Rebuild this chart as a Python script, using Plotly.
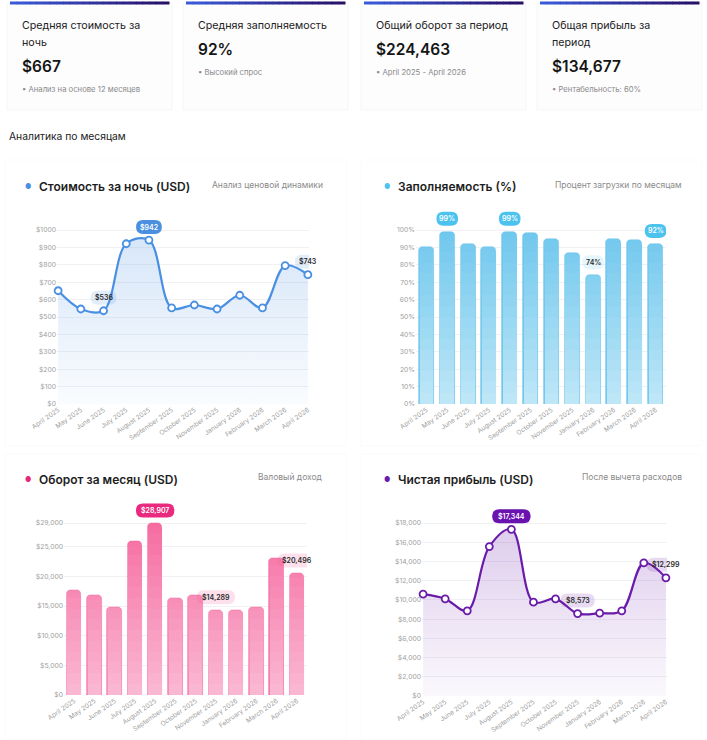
import numpy as np
import plotly.graph_objects as go

W, H = 707, 740

# ---------------- data ----------------
months = ["April 2025", "May 2025", "June 2025", "July 2025", "August 2025",
          "September 2025", "October 2025", "November 2025", "January 2026",
          "February 2026", "March 2026", "April 2026"]
nightly_price = [651, 546, 536, 921, 942, 552, 569, 546, 625, 552, 795, 743]
occupancy = [90, 99, 92, 90, 99, 98, 95, 87, 74, 95, 94, 92]
revenue = [17635, 16795, 14780, 25865, 28907, 16292, 16795, 14289, 14332, 14780, 23010, 20496]
profit = [10592, 10108, 8862, 15542, 17344, 9762, 10108, 8573, 8619, 8862, 13846, 12299]

price_ticks = [0, 100, 200, 300, 400, 500, 600, 700, 800, 900, 1000]
occupancy_ticks = [0, 10, 20, 30, 40, 50, 60, 70, 80, 90, 100]
revenue_ticks = [0, 5000, 10000, 15000, 20000, 25000, 29000]
profit_ticks = [0, 2000, 4000, 6000, 8000, 10000, 12000, 14000, 16000, 18000]

kpi_titles = [["Средняя стоимость за", "ночь"], ["Средняя заполняемость"],
              ["Общий оборот за период"], ["Общая прибыль за", "период"]]
kpi_values = ["$667", "92%", "$224,463", "$134,677"]
kpi_notes = ["• Анализ на основе 12 месяцев", "• Высокий спрос",
             "• April 2025 - April 2026", "• Рентабельность: 60%"]

FONT = "Inter, Roboto, sans-serif"


def px(x):
    return x / W


def py(y):
    return 1 - y / H


fig = go.Figure()
shapes = []
annots = []


def text(x, y, s, size, color="#222", xanchor="left", weight=400, yanchor="middle"):
    annots.append(dict(x=px(x), y=py(y), xref="paper", yref="paper", text=s,
                       showarrow=False, xanchor=xanchor, yanchor=yanchor,
                       font=dict(size=size, color=color, family=FONT, weight=weight)))


# ---------------- KPI cards ----------------
card_x = [(7, 172), (183, 348), (361, 526), (537, 702)]
c0, c1 = np.array([58, 90, 218]), np.array([40, 16, 104])
for i, (x0, x1) in enumerate(card_x):
    shapes.append(dict(type="rect", xref="paper", yref="paper", x0=px(x0), x1=px(x1), y0=py(110), y1=py(3),
                       fillcolor="#fdfdfe", line=dict(color="rgba(0,0,0,0.03)", width=1), layer="below"))
    n = 24
    for k in range(n):
        t = k / (n - 1)
        c = (c0 * (1 - t) + c1 * t).astype(int)
        shapes.append(dict(type="rect", xref="paper", yref="paper",
                           x0=px(x0 + 3 + (x1 - x0 - 6) * k / n), x1=px(x0 + 3 + (x1 - x0 - 6) * (k + 1) / n + 0.5),
                           y0=py(4.5), y1=py(1.5), fillcolor=f"rgb({c[0]},{c[1]},{c[2]})", line=dict(width=0)))
    tx = x0 + 13
    lines = kpi_titles[i]
    for j, ln in enumerate(lines):
        text(tx, 26 + 17 * j, ln, 10.7, "#222")
    if len(lines) == 2:
        vy, ny = 67, 89
    else:
        vy, ny = 50, 72
    text(tx, vy, kpi_values[i], 15.5, "#151515", weight=600)
    text(tx, ny, kpi_notes[i], 7.7, "#8a8a8a")

text(7, 136, "Аналитика по месяцам", 10.3, "#222")

# ---------------- chart panels ----------------
panels = [
    dict(box=(5, 160, 346, 446), title="Стоимость за ночь (USD)", sub="Анализ ценовой динамики",
         dot="#4a90e2", ty=187, tx=37, dx=28, sx=325),
    dict(box=(361, 160, 702, 446), title="Заполняемость (%)", sub="Процент загрузки по месяцам",
         dot="#4fc3f0", ty=187, tx=396, dx=387, sx=684),
    dict(box=(5, 454, 346, 740), title="Оборот за месяц (USD)", sub="Валовый доход",
         dot="#e8267a", ty=479, tx=37, dx=28, sx=325),
    dict(box=(361, 454, 702, 740), title="Чистая прибыль (USD)", sub="После вычета расходов",
         dot="#6a1bb0", ty=479, tx=396, dx=387, sx=684),
]
for p in panels:
    x0, y0, x1, y1 = p["box"]
    shapes.append(dict(type="rect", xref="paper", yref="paper", x0=px(x0), x1=px(x1), y0=py(y1), y1=py(y0),
                       fillcolor="#ffffff", line=dict(color="rgba(0,0,0,0.02)", width=1), layer="below"))
    text(p["dx"], p["ty"], "●", 7, p["dot"], xanchor="center")
    text(p["tx"], p["ty"], p["title"], 12, "#1e1e1e", weight=600)
    text(p["sx"], p["ty"] - 2, p["sub"], 8.5, "#8a8a8a", xanchor="right")

# axes: pixel position of zero and of the top tick, plus headroom for value badges
axes = {
    1: dict(xd=(57, 309), y0=404, ytop=230, top=1000, xr=[-0.05, 11.05]),
    2: dict(xd=(416, 666), y0=404, ytop=230, top=100, xr=[-0.5, 11.5]),
    3: dict(xd=(64, 307), y0=695, ytop=523, top=29000, xr=[-0.5, 11.5]),
    4: dict(xd=(422, 667), y0=696, ytop=523, top=18000, xr=[-0.05, 11.05]),
}
HEAD = 1.12
idx = list(range(len(months)))

layout_axes = {}
for k, a in axes.items():
    sx = "" if k == 1 else str(k)
    ytop_px = a["y0"] - (a["y0"] - a["ytop"]) * HEAD
    layout_axes[f"xaxis{sx}"] = dict(domain=[px(a["xd"][0]), px(a["xd"][1])], range=a["xr"],
                                     anchor=f"y{sx}", tickmode="array", tickvals=idx, ticktext=months,
                                     tickangle=-35, tickfont=dict(size=6.5, color="#a0a0a0", family=FONT),
                                     showgrid=False, zeroline=False, showline=False, ticks="",
                                     automargin=False, fixedrange=True)
    layout_axes[f"yaxis{sx}"] = dict(domain=[py(a["y0"]), py(ytop_px)], range=[0, a["top"] * HEAD],
                                     anchor=f"x{sx}", tickfont=dict(size=6.8, color="#a0a0a0", family=FONT),
                                     showgrid=True, gridcolor="#f1f1f4", gridwidth=1, zeroline=False,
                                     showline=False, ticks="", automargin=False, fixedrange=True)

layout_axes["yaxis"].update(tickmode="array", tickvals=price_ticks,
                            ticktext=[f"${v}" for v in price_ticks])
layout_axes["yaxis2"].update(tickmode="array", tickvals=occupancy_ticks,
                             ticktext=[f"{v}%" for v in occupancy_ticks])
layout_axes["yaxis3"].update(tickmode="array", tickvals=revenue_ticks,
                             ticktext=[f"${v:,}" for v in revenue_ticks])
layout_axes["yaxis4"].update(tickmode="array", tickvals=profit_ticks,
                             ticktext=[f"${v:,}" for v in profit_ticks])


# ---------------- line charts ----------------
def line_chart(values, xa, ya, rgb):
    r, g, b = rgb
    fig.add_trace(go.Scatter(
        x=idx, y=values, xaxis=xa, yaxis=ya, mode="lines+markers",
        line=dict(color=f"rgb({r},{g},{b})", width=2.2, shape="spline", smoothing=1.0),
        marker=dict(size=7, color="white", line=dict(color=f"rgb({r},{g},{b})", width=1.8)),
        fill="tozeroy",
        fillgradient=dict(type="vertical",
                          colorscale=[[0, f"rgba({r},{g},{b},0.03)"], [1, f"rgba({r},{g},{b},0.22)"]]),
        hoverinfo="skip", showlegend=False, cliponaxis=False))


line_chart(nightly_price, "x", "y", (74, 144, 226))
line_chart(profit, "x4", "y4", (106, 27, 170))


# ---------------- gradient bar charts ----------------
def gradient_bars(values, xa, ya, ymax, top_rgb, bot_rgb, edge, plot_h):
    top_rgb, bot_rgb = np.array(top_rgb), np.array(bot_rgb)

    def col(h):
        t = min(max(h / ymax, 0), 1)
        c = (bot_rgb * (1 - t) + top_rgb * t).astype(int)
        return f"rgb({c[0]},{c[1]},{c[2]})"

    fig.add_trace(go.Bar(x=idx, y=values, xaxis=xa, yaxis=ya, width=0.72,
                         marker=dict(color=[col(v) for v in values], cornerradius=4,
                                     line=dict(color=edge, width=0.8)),
                         hoverinfo="skip", showlegend=False))
    rdat = 4.5 / plot_h * ymax
    n = 16
    levels = np.linspace(0, ymax, n + 1)
    for k in range(n):
        lo, hi = levels[k], levels[k + 1]
        hs, bs = [], []
        for v in values:
            top = min(v - rdat, hi + ymax * 0.004)
            if top > lo:
                hs.append(top - lo)
                bs.append(lo)
            else:
                hs.append(None)
                bs.append(None)
        fig.add_trace(go.Bar(x=idx, y=hs, base=bs, xaxis=xa, yaxis=ya, width=0.66,
                             marker=dict(color=col((lo + hi) / 2), line=dict(width=0)),
                             hoverinfo="skip", showlegend=False))


gradient_bars(occupancy, "x2", "y2", 100, (112, 200, 238), (192, 231, 248), "rgba(90,185,230,0.5)", 174)
gradient_bars(revenue, "x3", "y3", 29000, (246, 108, 162), (251, 186, 211), "rgba(235,90,150,0.5)", 172)


# ---------------- value badges ----------------
def badge(xa, ya, i, v, label, fill, fcolor, dy):
    w = 4.2 * len(label) + 9
    h = 14
    r = h / 2
    x0, x1 = -w / 2, w / 2
    y0, y1 = dy - h / 2, dy + h / 2
    path = (f"M{x0 + r},{y0} L{x1 - r},{y0} Q{x1},{y0} {x1},{y0 + r} "
            f"Q{x1},{y1} {x1 - r},{y1} L{x0 + r},{y1} Q{x0},{y1} {x0},{y1 - r} "
            f"Q{x0},{y0} {x0 + r},{y0} Z")
    shapes.append(dict(type="path", xref=xa, yref=ya, xsizemode="pixel", ysizemode="pixel",
                       xanchor=i, yanchor=v, path=path, fillcolor=fill, line=dict(width=0), layer="above"))
    annots.append(dict(x=i, y=v, xref=xa, yref=ya, text=label, showarrow=False,
                       yshift=dy, font=dict(size=7, color=fcolor, family=FONT, weight=600)))


def badges_for(values, xa, ya, fmt, strong, light, marks):
    for i, kind in marks:
        v = values[i]
        if kind == "s":
            badge(xa, ya, i, v, fmt(v), strong, "white", 13)
        else:
            badge(xa, ya, i, v, fmt(v), light, "#2a2a2a", 13)


def imax(vals):
    return vals.index(max(vals))


def imin(vals):
    return vals.index(min(vals))


last = len(months) - 1
badges_for(nightly_price, "x", "y", lambda v: f"${v}", "#4a8fe0", "rgba(74,144,226,0.16)",
           [(imax(nightly_price), "s"), (imin(nightly_price), "l"), (last, "l")])
occ_max = max(occupancy)
badges_for(occupancy, "x2", "y2", lambda v: f"{v}%", "#4cc2ee", "rgba(76,194,238,0.14)",
           [(i, "s") for i, v in enumerate(occupancy) if v == occ_max] +
           [(imin(occupancy), "l"), (last, "s")])
badges_for(revenue, "x3", "y3", lambda v: f"${v:,}", "#ea2a7e", "rgba(240,100,160,0.2)",
           [(imax(revenue), "s"), (imin(revenue), "l"), (last, "l")])
badges_for(profit, "x4", "y4", lambda v: f"${v:,}", "#6a12b0", "rgba(110,30,170,0.16)",
           [(imax(profit), "s"), (imin(profit), "l"), (last, "l")])

fig.update_layout(
    width=W, height=H, margin=dict(l=0, r=0, t=0, b=0, autoexpand=False),
    paper_bgcolor="white", plot_bgcolor="rgba(0,0,0,0)",
    barmode="overlay", bargap=0, showlegend=False,
    font=dict(family=FONT, color="#222"),
    shapes=shapes, annotations=annots, hovermode=False,
    **layout_axes,
)

fig.write_html("out.html", config={"displayModeBar": False},
               post_script="document.body.style.margin='0';document.body.style.overflow='hidden';")
